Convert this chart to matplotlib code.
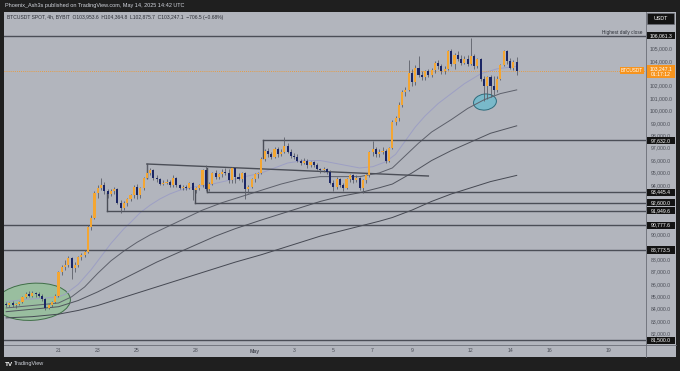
import matplotlib
matplotlib.use("Agg")
import matplotlib.pyplot as plt
from matplotlib.patches import Rectangle, Ellipse
from matplotlib.lines import Line2D
from matplotlib.transforms import ScaledTranslation, blended_transform_factory

plt.rcParams['font.family'] = ['Liberation Sans', 'DejaVu Sans']

# BTCUSDT 4h candles (thousand USDT), first candle Apr 18 08:00 UTC
opens = [84.4, 84.3, 84.5, 84.3, 84.4, 84.6, 85.0, 85.2, 85.1, 85.3,
         85.2, 85.1, 84.8, 84.1, 84.3, 84.6, 85.1, 87.0, 87.4, 87.6,
         88.1, 87.3, 87.6, 88.2, 88.4, 88.6, 90.6, 91.4, 93.4, 93.8,
         94.0, 93.5, 93.3, 93.5, 93.7, 92.6, 92.2, 92.6, 92.9, 93.2,
         93.9, 93.2, 93.8, 94.6, 95.0, 95.2, 94.6, 94.5, 94.1, 94.2,
         94.3, 94.0, 94.6, 94.0, 93.8, 93.9, 93.8, 94.2, 93.6, 93.8,
         94.0, 95.2, 93.7, 94.1, 95.0, 94.7, 94.9, 95.1, 95.0, 94.4,
         95.4, 94.7, 94.5, 95.0, 93.7, 93.9, 94.5, 94.9, 95.0, 96.1,
         96.8, 96.5, 96.3, 96.9, 96.5, 96.7, 97.2, 96.7, 96.4, 96.3,
         96.0, 95.8, 96.0, 95.6, 95.9, 95.6, 95.3, 95.2, 95.3, 95.1,
         94.2, 93.9, 94.5, 94.0, 93.8, 94.5, 94.8, 94.4, 94.6, 93.8,
         94.4, 94.8, 96.7, 96.9, 96.5, 96.7, 96.8, 96.0, 97.0, 99.1,
         99.4, 100.5, 101.5, 101.7, 103.1, 102.3, 103.5, 102.9, 102.7, 103.2,
         102.9, 103.3, 103.9, 103.6, 103.2, 103.4, 104.8, 103.8, 104.5, 104.2,
         103.9, 104.2, 103.8, 104.4, 103.6, 104.2, 102.6, 102.0, 102.7, 102.0,
         101.7, 102.6, 103.7, 104.8, 104.0, 103.5, 103.954]
highs = [84.6, 84.6, 84.7, 84.5, 84.7, 85.1, 85.4, 85.5, 85.5, 85.4,
         85.4, 85.2, 84.9, 84.4, 84.7, 85.2, 87.1, 87.6, 88.0, 88.3,
         88.2, 87.8, 88.3, 88.5, 88.8, 90.8, 91.6, 93.5, 94.0, 94.6,
         94.3, 93.7, 93.7, 93.9, 93.8, 92.8, 92.7, 93.0, 93.3, 94.0,
         94.1, 93.9, 94.7, 95.7, 95.4, 95.3, 94.8, 94.6, 94.4, 94.5,
         94.4, 94.8, 94.7, 94.1, 94.0, 94.0, 94.3, 94.3, 93.9, 94.1,
         95.3, 95.6, 94.3, 95.1, 95.2, 95.0, 95.3, 95.4, 95.3, 95.5,
         95.5, 95.0, 95.1, 95.1, 94.0, 94.6, 95.0, 95.1, 96.3, 96.9,
         97.0, 96.7, 97.1, 97.1, 96.9, 97.9, 97.4, 96.9, 96.6, 96.5,
         96.1, 96.2, 96.1, 96.0, 96.0, 95.8, 95.4, 95.5, 95.4, 95.2,
         94.4, 94.7, 94.6, 94.2, 94.6, 94.9, 94.9, 94.8, 94.7, 94.5,
         94.9, 96.8, 97.6, 97.1, 96.9, 97.1, 96.9, 97.1, 99.3, 99.6,
         100.7, 101.7, 101.9, 104.1, 103.4, 103.7, 104.4, 103.2, 103.3, 103.4,
         103.5, 104.0, 104.1, 103.8, 103.6, 104.9, 105.0, 104.7, 104.8, 104.5,
         104.4, 104.5, 105.9, 104.6, 104.3, 104.3, 102.8, 102.8, 102.9, 102.8,
         102.8, 103.8, 104.9, 104.9, 104.3, 104.1, 104.365]
lows = [84.2, 84.2, 84.2, 84.1, 84.3, 84.5, 84.9, 85.0, 85.0, 85.0,
        85.0, 84.7, 83.9, 84.0, 84.2, 84.5, 85.0, 86.8, 87.2, 87.4,
        86.4, 87.0, 87.4, 88.0, 88.2, 88.5, 90.4, 91.3, 93.0, 93.6,
        93.3, 93.0, 93.1, 93.3, 92.5, 91.8, 92.0, 92.3, 92.7, 93.0,
        92.9, 93.0, 93.6, 94.5, 94.8, 94.4, 94.3, 94.0, 94.0, 94.1,
        93.9, 93.9, 93.9, 93.7, 93.6, 93.6, 93.7, 92.8, 93.4, 93.6,
        93.9, 93.5, 93.5, 94.0, 94.5, 94.5, 94.7, 94.8, 94.2, 94.2,
        94.2, 94.4, 94.3, 92.9, 93.4, 93.8, 94.3, 94.6, 94.9, 96.0,
        96.3, 96.1, 96.2, 96.3, 96.4, 96.6, 96.6, 96.2, 96.1, 95.9,
        95.6, 95.7, 95.4, 95.5, 95.5, 95.2, 95.0, 95.1, 94.9, 94.1,
        93.5, 93.7, 93.9, 93.5, 93.7, 94.3, 94.2, 94.3, 93.6, 93.4,
        94.2, 94.7, 96.4, 96.3, 96.3, 96.5, 95.8, 95.9, 96.9, 98.9,
        99.2, 100.3, 101.2, 101.6, 102.0, 102.1, 102.7, 102.5, 102.5, 102.7,
        102.7, 103.1, 103.4, 103.0, 103.0, 103.3, 103.6, 103.4, 104.0, 103.7,
        103.8, 103.6, 103.7, 103.4, 103.5, 102.4, 100.8, 101.0, 101.1, 101.3,
        101.5, 102.5, 103.6, 103.8, 103.4, 103.3, 102.876]
closes = [84.3, 84.5, 84.3, 84.4, 84.6, 85.0, 85.2, 85.1, 85.3, 85.2,
          85.1, 84.8, 84.1, 84.3, 84.6, 85.1, 87.0, 87.4, 87.6, 88.1,
          87.3, 87.6, 88.2, 88.4, 88.6, 90.6, 91.4, 93.4, 93.8, 94.0,
          93.5, 93.3, 93.5, 93.7, 92.6, 92.2, 92.6, 92.9, 93.2, 93.9,
          93.2, 93.8, 94.6, 95.0, 95.2, 94.6, 94.5, 94.1, 94.2, 94.3,
          94.0, 94.6, 94.0, 93.8, 93.9, 93.8, 94.2, 93.6, 93.8, 94.0,
          95.2, 93.7, 94.1, 95.0, 94.7, 94.9, 95.1, 95.0, 94.4, 95.4,
          94.7, 94.5, 95.0, 93.7, 93.9, 94.5, 94.9, 95.0, 96.1, 96.8,
          96.5, 96.3, 96.9, 96.5, 96.7, 97.2, 96.7, 96.4, 96.3, 96.0,
          95.8, 96.0, 95.6, 95.9, 95.6, 95.3, 95.2, 95.3, 95.1, 94.2,
          93.9, 94.5, 94.0, 93.8, 94.5, 94.8, 94.4, 94.6, 93.8, 94.4,
          94.8, 96.7, 96.9, 96.5, 96.7, 96.8, 96.0, 97.0, 99.1, 99.4,
          100.5, 101.5, 101.7, 103.1, 102.3, 103.5, 102.9, 102.7, 103.2, 102.9,
          103.3, 103.9, 103.6, 103.2, 103.4, 104.8, 103.8, 104.5, 104.2, 103.9,
          104.2, 103.8, 104.4, 103.6, 104.2, 102.6, 102.0, 102.7, 102.0, 101.7,
          102.6, 103.7, 104.8, 104.0, 103.5, 103.954, 103.247]

# moving averages (candle index, thousand USDT)
ma1_x = [0, 6, 12, 16, 18, 20, 22, 24, 26, 28, 30, 32, 34, 36, 38, 41, 44, 47, 50, 53,
         58, 63, 68, 73, 78, 82, 86, 91, 96, 100, 104, 108, 112, 116, 119, 122, 125, 128,
         132, 136, 140, 145, 150, 156]
ma1_y = [84.6, 84.8, 84.9, 85.0, 85.2, 85.6, 86.0, 86.6, 87.2, 87.9, 88.6, 89.3, 89.9, 90.5,
         91.0, 91.8, 92.4, 92.9, 93.3, 93.6, 93.9, 94.1, 94.4, 94.7, 95.0, 95.4, 95.8, 96.0,
         96.0, 95.8, 95.6, 95.4, 95.5, 95.9, 96.5, 97.6, 98.7, 99.6, 100.6, 101.4, 102.2,
         103.0, 103.4, 103.6]
ma2_x = [0, 8, 16, 20, 24, 28, 32, 36, 40, 44, 48, 52, 56, 60, 66, 72, 78, 84, 90, 96,
         102, 108, 114, 118, 122, 126, 130, 136, 141, 146, 151, 156]
ma2_y = [84.1, 84.3, 84.5, 85.0, 85.8, 86.9, 87.9, 88.7, 89.4, 90.0, 90.5, 91.0, 91.5, 92.0,
         92.6, 93.1, 93.6, 94.1, 94.5, 94.7, 94.7, 94.7, 95.0, 95.4, 96.4, 97.4, 98.3, 99.3,
         100.2, 100.9, 101.4, 101.7]
ma3_x = [0, 8, 16, 22, 28, 34, 40, 46, 52, 58, 64, 70, 78, 84, 90, 96, 102, 108, 114, 118,
         124, 130, 136, 142, 148, 156]
ma3_y = [83.8, 84.0, 84.2, 84.7, 85.4, 86.2, 87.0, 87.8, 88.5, 89.2, 89.9, 90.5, 91.2, 91.7,
         92.2, 92.7, 93.1, 93.4, 93.8, 94.1, 95.0, 96.0, 96.8, 97.5, 98.2, 98.8]
ma4_x = [0, 8, 16, 22, 28, 34, 40, 46, 52, 58, 64, 70, 78, 84, 90, 96, 102, 108, 114, 118,
         124, 130, 136, 142, 148, 156]
ma4_y = [83.3, 83.4, 83.6, 83.9, 84.3, 84.8, 85.3, 85.8, 86.3, 86.8, 87.3, 87.8, 88.4, 88.9,
         89.4, 89.9, 90.3, 90.7, 91.1, 91.4, 92.0, 92.7, 93.3, 93.8, 94.3, 94.8]

# horizontal levels: value, label, start candle (None = full width), leg top
levels = [106.0613, 97.632, 93.4454, 92.6, 91.9496, 90.7776, 88.7735, 81.5]
level_labels = ['106,061.3', '97,632.0', '93,445.4', '92,600.0', '91,949.6', '90,777.6', '88,773.5', '81,500.0']
level_start = [None, 78.5, 61.4, 57.7, 30.8, None, None, None]
level_leg = [None, 96.2, 95.4, 93.7, 93.4, None, None, None]

price_ticks = [105, 104, 102, 101, 100, 99, 98, 97, 96, 95, 94, 90, 88, 87, 86, 85, 84, 83, 82]
day_ticks = [16, 28, 40, 58, 76, 88, 100, 112, 124, 142, 154, 166, 184]
day_labels = ['21', '23', '25', '28', 'May', '3', '5', '7', '9', '12', '14', '16', '19']

last_price = 103.2471

W, H = 680, 371
BG = '#b2b5bd'
TXT = '#4a4d56'
LINE = '#4b4e57'
UP = '#f4a632'
DOWN = '#1b2665'
ORANGE = '#f7941d'

fig = plt.figure(figsize=(W / 100, H / 100), dpi=100)
fig.patch.set_facecolor('#1f1f1f')
fig.add_artist(Rectangle((4 / W, 1 - 357 / H), 672 / W, 345 / H, transform=fig.transFigure,
                         facecolor=BG, edgecolor='none', zorder=0))
ax = fig.add_axes([4 / W, 1 - 345 / H, 642 / W, 333 / H])
ax.set_facecolor(BG)
for s in ax.spines.values():
    s.set_visible(False)
ax.set_xticks([])
ax.set_yticks([])

# axis separators
fig.add_artist(Line2D([646 / W, 646 / W], [1 - 357 / H, 1 - 12 / H], transform=fig.transFigure,
                      color='#6a6d76', lw=0.6))
fig.add_artist(Line2D([4 / W, 676 / W], [1 - 345 / H, 1 - 345 / H], transform=fig.transFigure,
                      color='#6a6d76', lw=0.6))

# annotations drawn by the author
green = Ellipse((0, 0), 0.75, 0.37, angle=4,
                transform=fig.dpi_scale_trans + ScaledTranslation(8.2, 84.6, ax.transData),
                facecolor=(0.57, 0.76, 0.59, 0.75), edgecolor='#3f6e47', lw=0.7, zorder=1)
ax.add_patch(green)
blue = Ellipse((0, 0), 0.23, 0.16, angle=8,
               transform=fig.dpi_scale_trans + ScaledTranslation(146.3, 100.72, ax.transData),
               facecolor=(0.45, 0.73, 0.80, 0.9), edgecolor='#2d6b7c', lw=0.7, zorder=1)
ax.add_patch(blue)

# moving averages
ax.plot(ma1_x, ma1_y, color='#9d9fc4', lw=0.7, zorder=2)
ax.plot(ma2_x, ma2_y, color='#5d606b', lw=0.7, zorder=2)
ax.plot(ma3_x, ma3_y, color='#50535d', lw=0.7, zorder=2)
ax.plot(ma4_x, ma4_y, color='#454852', lw=0.7, zorder=2)

# levels
for val, start, leg in zip(levels, level_start, level_leg):
    if start is None:
        ax.axhline(val, color=LINE, lw=1.0, zorder=2)
    else:
        ax.plot([start, 200], [val, val], color=LINE, lw=1.0, zorder=2)
        ax.plot([start, start], [leg, val], color=LINE, lw=1.0, zorder=2)

# slanted trend line from Apr 25 high
ax.plot([43.0, 129.0], [95.72, 94.75], color=LINE, lw=1.0, zorder=2)
ax.plot([43.0, 43.0], [94.6, 95.72], color=LINE, lw=1.0, zorder=2)

# candles
idx = list(range(len(closes)))
colors = [UP if c >= o else DOWN for o, c in zip(opens, closes)]
ax.vlines(idx, lows, highs, colors='#5c5f69', lw=0.6, zorder=3)
bottoms = [min(o, c) for o, c in zip(opens, closes)]
heights = [max(abs(c - o), 0.06) for o, c in zip(opens, closes)]
ax.bar(idx, heights, bottom=bottoms, width=0.64, color=colors, edgecolor='none', zorder=4)

# last price line
ax.axhline(last_price, color=ORANGE, lw=0.6, ls=(0, (1, 1.5)), zorder=2)

ax.set_xlim(-0.65, 195.5)
ax.set_ylim(81.112, 107.986)

# price axis
ty = blended_transform_factory(ax.transAxes, ax.transData)
x0 = (647 - 4) / 642
bw = 28 / 642
xl = (661 - 4) / 642
for p in price_ticks:
    ax.text(xl, p, f'{p * 1000:,.1f}', transform=ty, ha='center', va='center',
            fontsize=3.7, color=TXT, clip_on=False)
for val, lab in zip(levels, level_labels):
    ax.add_patch(Rectangle((x0, val - 0.29), bw, 0.58, transform=ty, facecolor='#131313',
                           edgecolor='none', clip_on=False, zorder=5))
    ax.text(xl, val, lab, transform=ty, ha='center', va='center', fontsize=3.7, color='white',
            clip_on=False, zorder=6)
ax.add_patch(Rectangle((x0, last_price - 0.62), bw, 1.05, transform=ty, facecolor=ORANGE,
                       edgecolor='none', clip_on=False, zorder=5))
ax.text(xl, last_price - 0.1, '103,247.1\n01:17:12', transform=ty, ha='center', va='center',
        fontsize=3.7, color='white', linespacing=1.1, clip_on=False, zorder=6)
ax.add_patch(Rectangle(((620 - 4) / 642, last_price - 0.3), 24 / 642, 0.6, transform=ty,
                       facecolor=ORANGE, edgecolor='none', clip_on=False, zorder=5))
ax.text((632 - 4) / 642, last_price, 'BTCUSDT', transform=ty, ha='center', va='center',
        fontsize=3.4, color='white', clip_on=False, zorder=6)
ax.text((643 - 4) / 642, 106.37, 'Highest daily close', transform=ty, ha='right', va='center',
        fontsize=3.4, color='#2a2d35', clip_on=False, zorder=6)
fig.add_artist(Rectangle((647 / W, 1 - 24 / H), 27 / W, 11 / H, transform=fig.transFigure,
                         facecolor='#131313', edgecolor='#6a6d76', lw=0.4, zorder=5))
fig.text(660.5 / W, 1 - 18.5 / H, 'USDT', ha='center', va='center', fontsize=3.9, color='white',
         zorder=6)

# time axis
tx = blended_transform_factory(ax.transData, ax.transAxes)
for t, lab in zip(day_ticks, day_labels):
    ax.text(t, -6 / 333, lab, transform=tx, ha='center', va='center', fontsize=3.7,
            color=TXT, fontweight='bold' if lab == 'May' else 'normal', clip_on=False)

# header and footer
fig.text(5 / W, 1 - 6 / H, 'Phoenix_Ash3s published on TradingView.com, May 14, 2025 14:42 UTC',
         ha='left', va='center', fontsize=4.0, color='#d1d4dc')
fig.text(7 / W, 1 - 18 / H,
         'BTCUSDT SPOT, 4h, BYBIT  O103,953.6  H104,364.8  L102,875.7  C103,247.1  \u2212706.5 (\u22120.68%)',
         ha='left', va='center', fontsize=3.6, color='#2a2d35')
fig.text(5 / W, 1 - 364 / H, 'TV', ha='left', va='center', fontsize=4.6, color='white',
         fontweight='bold')
fig.text(14 / W, 1 - 364 / H, 'TradingView', ha='left', va='center', fontsize=4.0, color='#d1d4dc')

fig.savefig('out.png', dpi=100, facecolor=fig.get_facecolor())
